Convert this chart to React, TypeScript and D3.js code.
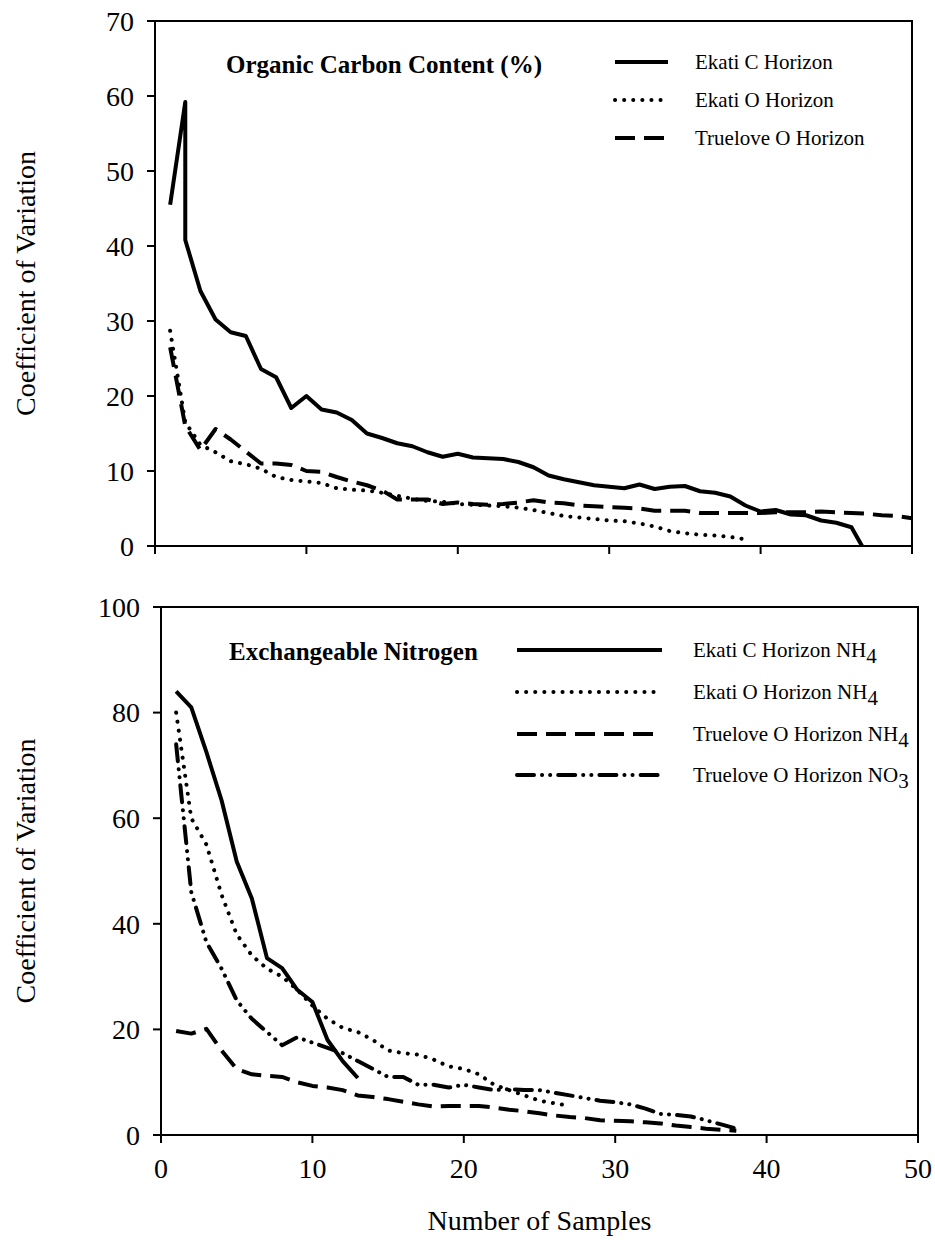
import React from "react";
import * as d3 from "d3";

type Pt = [number, number];

// Organic carbon content panel
const ekatiC_OC: Pt[] = [
  [1, 45.5], [2, 59.2], [2, 40.8], [3, 34], [4, 30.2], [5, 28.5], [6, 28], [7, 23.6], [8, 22.5],
  [9, 18.4], [10, 20], [11, 18.2], [12, 17.8], [13, 16.8], [14, 15], [15, 14.4], [16, 13.7],
  [17, 13.3], [18, 12.5], [19, 11.9], [20, 12.3], [21, 11.8], [22, 11.7], [23, 11.6], [24, 11.2],
  [25, 10.5], [26, 9.4], [27, 8.9], [28, 8.5], [29, 8.1], [30, 7.9], [31, 7.7], [32, 8.2],
  [33, 7.6], [34, 7.9], [35, 8.0], [36, 7.3], [37, 7.1], [38, 6.6], [39, 5.4], [40, 4.6],
  [41, 4.8], [42, 4.2], [43, 4.1], [44, 3.4], [45, 3.1], [46, 2.5], [46.7, 0],
];
const ekatiO_OC: Pt[] = [
  [1, 28.7], [2, 16.5], [3, 13.5], [4, 12.5], [5, 11.3], [6, 10.9], [7, 10.3], [8, 9.2],
  [9, 8.8], [10, 8.6], [11, 8.4], [12, 7.7], [13, 7.5], [14, 7.4], [15, 7.1], [16, 6.7],
  [17, 6.3], [18, 6.0], [19, 5.9], [20, 5.6], [21, 5.5], [22, 5.4], [23, 5.3], [24, 5.1],
  [25, 4.8], [26, 4.4], [27, 4.0], [28, 3.8], [29, 3.6], [30, 3.4], [31, 3.3], [32, 3.0],
  [33, 2.6], [34, 2.0], [35, 1.7], [36, 1.5], [37, 1.4], [38, 1.2], [39, 0.9],
];
const truelove_OC: Pt[] = [
  [1, 26.5], [2, 16], [3, 12.8], [4, 15.6], [5, 14.2], [6, 12.6], [7, 11], [8, 11], [9, 10.8],
  [10, 10], [11, 9.9], [12, 9.2], [13, 8.6], [14, 8.1], [15, 7.4], [16, 6.2], [17, 6.2],
  [18, 6.2], [19, 5.6], [20, 5.8], [21, 5.6], [22, 5.5], [23, 5.6], [24, 5.8], [25, 6.1],
  [26, 5.8], [27, 5.7], [28, 5.4], [29, 5.3], [30, 5.2], [31, 5.1], [32, 5.0], [33, 4.7],
  [34, 4.7], [35, 4.7], [36, 4.4], [37, 4.4], [38, 4.4], [39, 4.4], [40, 4.4], [41, 4.5],
  [42, 4.5], [43, 4.5], [44, 4.6], [45, 4.5], [46, 4.4], [47, 4.3], [48, 4.1], [49, 4.0], [50, 3.7],
];

// Exchangeable nitrogen panel
const ekatiC_NH4: Pt[] = [
  [1, 84], [2, 81], [3, 72.5], [4, 63.4], [5, 51.8], [6, 44.8], [7, 33.5], [8, 31.6],
  [9, 27.5], [10, 25.2], [11, 18], [12, 14], [13, 10.8],
];
const ekatiO_NH4: Pt[] = [
  [1, 80], [2, 60], [3, 55], [4, 45.5], [5, 38], [6, 34], [7, 31.5], [8, 30], [9, 27.5],
  [10, 24.5], [11, 22], [12, 20.3], [13, 19.5], [14, 18], [15, 16], [16, 15.5], [17, 15.2],
  [18, 14.3], [19, 13], [20, 12.5], [21, 11.5], [22, 9.5], [23, 8.5], [24, 7.5], [25, 6.5],
  [26, 6], [27, 5.5],
];
const trueloveNH4: Pt[] = [
  [1, 19.7], [2, 19.2], [3, 20.1], [4, 16], [5, 12.5], [6, 11.5], [7, 11.2], [8, 11], [9, 10],
  [10, 9.3], [11, 9], [12, 8.5], [13, 7.5], [14, 7.2], [15, 6.8], [16, 6.3], [17, 5.8],
  [18, 5.4], [19, 5.5], [20, 5.5], [21, 5.5], [22, 5.2], [23, 4.8], [24, 4.5], [25, 4.1],
  [26, 3.7], [27, 3.4], [28, 3.2], [29, 2.8], [30, 2.7], [31, 2.6], [32, 2.4], [33, 2.2],
  [34, 1.8], [35, 1.5], [36, 1.2], [37, 1.0], [38, 0.8],
];
const trueloveNO3: Pt[] = [
  [1, 74], [2, 46], [3, 36.5], [4, 31.5], [5, 25.5], [6, 22], [7, 19.5], [8, 17], [9, 18.5],
  [10, 17.5], [11, 16.5], [12, 15.5], [13, 14], [14, 12.5], [15, 11], [16, 11], [17, 9.5],
  [18, 9.5], [19, 9], [20, 9.5], [21, 9], [22, 8.5], [23, 8.7], [24, 8.5], [25, 8.5], [26, 8],
  [27, 7.5], [28, 7], [29, 6.5], [30, 6.2], [31, 5.8], [32, 5], [33, 4], [34, 3.8], [35, 3.5],
  [36, 2.8], [37, 2], [38, 1.2],
];

const xTicks = [0, 10, 20, 30, 40, 50];
const yTicksOC = [0, 10, 20, 30, 40, 50, 60, 70];
const yTicksN = [0, 20, 40, 60, 80, 100];

const FONT = "'Liberation Serif', 'Times New Roman', Times, serif";

const STYLES = {
  solid: { dash: undefined as string | undefined, cap: "butt" },
  dotted: { dash: "0.1 9", cap: "round" },
  dashed: { dash: "20 9", cap: "butt" },
  dashDotDot: { dash: "17 8 0.1 8 0.1 8", cap: "round" },
};

type StyleKey = keyof typeof STYLES;

function Series({ data, x, y, style }: { data: Pt[]; x: d3.ScaleLinear<number, number>; y: d3.ScaleLinear<number, number>; style: StyleKey }) {
  const line = d3.line<Pt>().x((d) => x(d[0])).y((d) => y(d[1]));
  const s = STYLES[style];
  return (
    <path
      d={line(data) ?? ""}
      fill="none"
      stroke="#000"
      strokeWidth={4}
      strokeDasharray={s.dash}
      strokeLinecap={s.cap as any}
      strokeLinejoin="round"
    />
  );
}

function Frame({ x, y, yTicks, showXLabels }: { x: d3.ScaleLinear<number, number>; y: d3.ScaleLinear<number, number>; yTicks: number[]; showXLabels: boolean }) {
  const [x0, x1] = x.range();
  const [y0, y1] = y.range();
  return (
    <g>
      <rect x={x0} y={y1} width={x1 - x0} height={y0 - y1} fill="none" stroke="#000" strokeWidth={2} />
      {yTicks.map((t) => (
        <g key={"y" + t}>
          <line x1={x0 - 8} x2={x0} y1={y(t)} y2={y(t)} stroke="#000" strokeWidth={2} />
          <text x={x0 - 21} y={y(t)} dy="0.35em" textAnchor="end" fontSize={28} fontFamily={FONT}>
            {t}
          </text>
        </g>
      ))}
      {xTicks.map((t) => (
        <g key={"x" + t}>
          <line x1={x(t)} x2={x(t)} y1={y0} y2={y0 + 8} stroke="#000" strokeWidth={2} />
          {showXLabels && (
            <text x={x(t)} y={y0 + 43} textAnchor="middle" fontSize={28} fontFamily={FONT}>
              {t}
            </text>
          )}
        </g>
      ))}
    </g>
  );
}

function LegendRow({ x1, x2, tx, y, style, label, sub }: { x1: number; x2: number; tx: number; y: number; style: StyleKey; label: string; sub?: string }) {
  const s = STYLES[style];
  return (
    <g>
      <line x1={x1} x2={x2} y1={y} y2={y} stroke="#000" strokeWidth={4} strokeDasharray={s.dash} strokeLinecap={s.cap as any} />
      <text x={tx} y={y} dy="0.33em" fontSize={21} fontFamily={FONT}>
        {label}
        {sub && (
          <tspan dy="0.3em" fontSize={21}>
            {sub}
          </tspan>
        )}
      </text>
    </g>
  );
}

export default function App() {
  const xTop = d3.scaleLinear().domain([0, 50]).range([155, 912]);
  const yTop = d3.scaleLinear().domain([0, 70]).range([546, 21]);
  const xBot = d3.scaleLinear().domain([0, 50]).range([161, 918]);
  const yBot = d3.scaleLinear().domain([0, 100]).range([1135, 607]);

  return (
    <svg
      width={935}
      height={1243}
      viewBox="0 0 935 1243"
      style={{ position: "absolute", left: 0, top: 0, background: "#fff" }}
    >
      <rect width={935} height={1243} fill="#fff" />

      {/* Organic carbon panel */}
      <Frame x={xTop} y={yTop} yTicks={yTicksOC} showXLabels={false} />
      <Series data={ekatiC_OC} x={xTop} y={yTop} style="solid" />
      <Series data={ekatiO_OC} x={xTop} y={yTop} style="dotted" />
      <Series data={truelove_OC} x={xTop} y={yTop} style="dashed" />
      <text x={226} y={73} fontSize={25} fontWeight="bold" fontFamily={FONT}>
        Organic Carbon Content (%)
      </text>
      <LegendRow x1={615} x2={668} tx={695} y={62} style="solid" label="Ekati C Horizon" />
      <LegendRow x1={615} x2={668} tx={695} y={100} style="dotted" label="Ekati O Horizon" />
      <LegendRow x1={615} x2={668} tx={695} y={138} style="dashed" label="Truelove O Horizon" />
      <text
        transform={`translate(35, ${(yTop(0) + yTop(70)) / 2}) rotate(-90)`}
        textAnchor="middle"
        fontSize={28}
        fontFamily={FONT}
      >
        Coefficient of Variation
      </text>

      {/* Exchangeable nitrogen panel */}
      <Frame x={xBot} y={yBot} yTicks={yTicksN} showXLabels={true} />
      <Series data={ekatiC_NH4} x={xBot} y={yBot} style="solid" />
      <Series data={ekatiO_NH4} x={xBot} y={yBot} style="dotted" />
      <Series data={trueloveNH4} x={xBot} y={yBot} style="dashed" />
      <Series data={trueloveNO3} x={xBot} y={yBot} style="dashDotDot" />
      <text x={229} y={660} fontSize={25} fontWeight="bold" fontFamily={FONT}>
        Exchangeable Nitrogen
      </text>
      <LegendRow x1={517} x2={662} tx={693} y={650} style="solid" label="Ekati C Horizon NH" sub="4" />
      <LegendRow x1={517} x2={662} tx={693} y={692} style="dotted" label="Ekati O Horizon NH" sub="4" />
      <LegendRow x1={517} x2={662} tx={693} y={734} style="dashed" label="Truelove O Horizon NH" sub="4" />
      <LegendRow x1={517} x2={662} tx={693} y={775} style="dashDotDot" label="Truelove O Horizon NO" sub="3" />
      <text
        transform={`translate(35, ${(yBot(0) + yBot(100)) / 2}) rotate(-90)`}
        textAnchor="middle"
        fontSize={28}
        fontFamily={FONT}
      >
        Coefficient of Variation
      </text>

      <text x={(xBot(0) + xBot(50)) / 2} y={1230} textAnchor="middle" fontSize={28} fontFamily={FONT}>
        Number of Samples
      </text>
    </svg>
  );
}
